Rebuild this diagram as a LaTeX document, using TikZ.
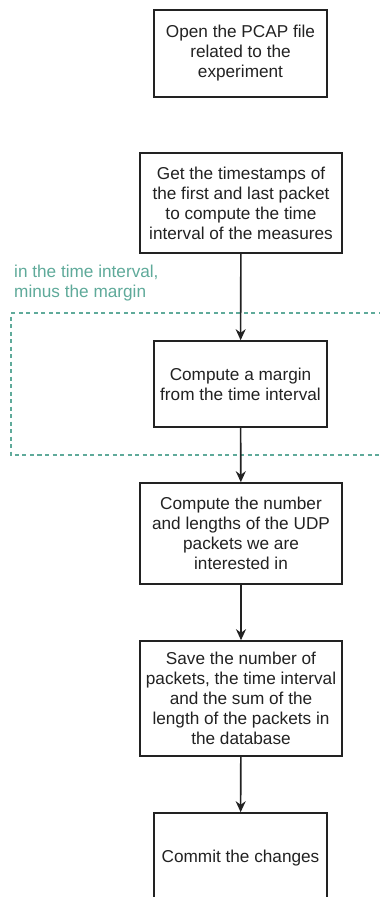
\documentclass[tikz,border=0pt]{standalone}
\usepackage{fontspec}
\setmainfont{Liberation Sans}
\usetikzlibrary{arrows.meta}
\definecolor{boxline}{HTML}{222222}
\definecolor{margincol}{HTML}{5FAA9A}
\tikzset{
  stepbox/.style={draw=boxline,line width=1.6pt,align=center,inner sep=0pt,
    font=\fontsize{17.2}{20}\selectfont,text=boxline},
  flow/.style={draw=boxline,line width=1.6pt,-{Stealth[length=11pt,width=10pt]}}
}
\begin{document}
\begin{tikzpicture}[x=1pt,y=-1pt]
    \useasboundingbox (0,0) rectangle (380,897);
    \fill [white] (0,0) rectangle (380,897);
    \draw [margincol,line width=1.6pt,dash pattern=on 4pt off 3.5pt] (390,313) -- (11,313) -- (11,455) -- (390,455);
    \node [anchor=west,align=left,text=margincol,inner sep=0pt,font=\fontsize{17.2}{20}\selectfont] (note) at (14,283) {in the time interval,\\minus the margin};
    \node [stepbox,minimum width=173pt,minimum height=87pt] (open) at (240.5,53.5) {Open the PCAP file\\related to the\\experiment};
    \node [stepbox,minimum width=202pt,minimum height=100pt] (stamps) at (241,203) {Get the timestamps of\\the first and last packet\\to compute the time\\interval of the measures};
    \node [stepbox,minimum width=173pt,minimum height=86pt] (margin) at (240.5,384) {Compute a margin\\from the time interval};
    \node [stepbox,minimum width=202pt,minimum height=101pt] (count) at (241,533.5) {Compute the number\\and lengths of the UDP\\packets we are\\interested in};
    \node [stepbox,minimum width=202pt,minimum height=115pt] (save) at (241,698.5) {Save the number of\\packets, the time interval\\and the sum of the\\length of the packets in\\the database};
    \node [stepbox,minimum width=173pt,minimum height=90pt] (commit) at (240.5,858) {Commit the changes};
    \draw [flow] (stamps) -- (margin);
    \draw [flow] (margin) -- (count);
    \draw [flow] (count) -- (save);
    \draw [flow] (save) -- (commit);
\end{tikzpicture}
\end{document}
